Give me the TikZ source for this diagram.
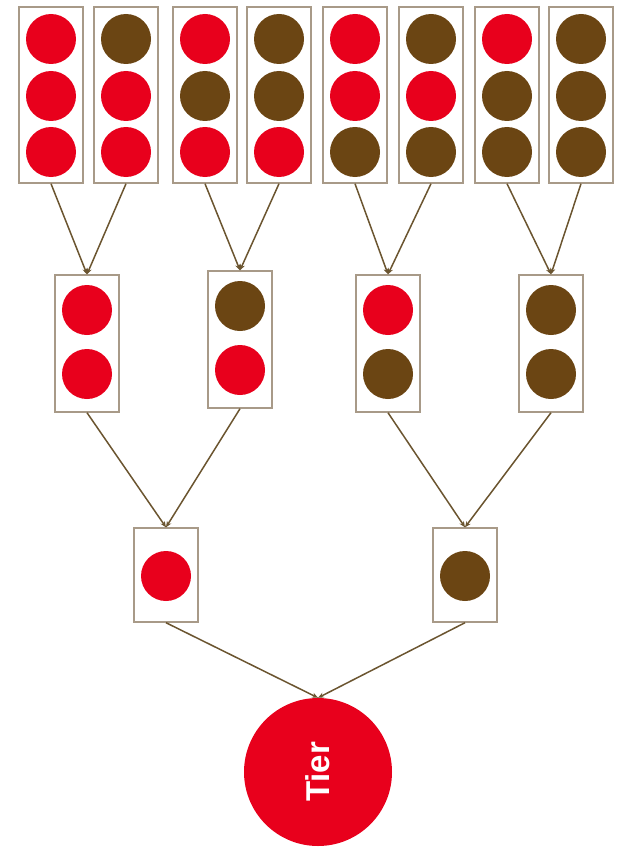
\documentclass[tikz,border=0pt]{standalone}
\usepackage{fontspec}
\setsansfont{Liberation Sans}
\usetikzlibrary{arrows.meta}
\definecolor{ballred}{HTML}{E8001C}
\definecolor{ballbrown}{HTML}{6B4513}
\definecolor{boxline}{HTML}{A89A88}
\definecolor{edgeline}{HTML}{6B5530}
\begin{document}
\begin{tikzpicture}[x=1pt, y=-1pt,
	  box/.style={rectangle, draw=boxline, line width=1.4pt, fill=white, minimum width=64pt, inner sep=0pt},
	  red/.style={circle, fill=ballred, minimum size=50pt, inner sep=0pt},
	  brown/.style={circle, fill=ballbrown, minimum size=50pt, inner sep=0pt},
	  edge/.style={draw=edgeline, line width=1.5pt, -{Stealth[length=6pt, width=5pt]}}]
	  \useasboundingbox (0,0) rectangle (617,848);
	  \node[box, minimum height=176pt] (t1) at (51,95) {};
	  \node[box, minimum height=176pt] (t2) at (126,95) {};
	  \node[box, minimum height=176pt] (t3) at (205,95) {};
	  \node[box, minimum height=176pt] (t4) at (279,95) {};
	  \node[box, minimum height=176pt] (t5) at (355,95) {};
	  \node[box, minimum height=176pt] (t6) at (431,95) {};
	  \node[box, minimum height=176pt] (t7) at (507,95) {};
	  \node[box, minimum height=176pt] (t8) at (581,95) {};
	  \node[red] (t1a) at (51,39) {};   \node[red] (t1b) at (51,96) {};   \node[red] (t1c) at (51,152) {};
	  \node[brown] (t2a) at (126,39) {}; \node[red] (t2b) at (126,96) {};   \node[red] (t2c) at (126,152) {};
	  \node[red] (t3a) at (205,39) {};   \node[brown] (t3b) at (205,96) {}; \node[red] (t3c) at (205,152) {};
	  \node[brown] (t4a) at (279,39) {}; \node[brown] (t4b) at (279,96) {}; \node[red] (t4c) at (279,152) {};
	  \node[red] (t5a) at (355,39) {};   \node[red] (t5b) at (355,96) {};   \node[brown] (t5c) at (355,152) {};
	  \node[brown] (t6a) at (431,39) {}; \node[red] (t6b) at (431,96) {};   \node[brown] (t6c) at (431,152) {};
	  \node[red] (t7a) at (507,39) {};   \node[brown] (t7b) at (507,96) {}; \node[brown] (t7c) at (507,152) {};
	  \node[brown] (t8a) at (581,39) {}; \node[brown] (t8b) at (581,96) {}; \node[brown] (t8c) at (581,152) {};
	  
	  \node[box, minimum height=137pt] (m1) at (87,343.5) {};
	  \node[box, minimum height=137pt] (m2) at (240,339.5) {};
	  \node[box, minimum height=137pt] (m3) at (388,343.5) {};
	  \node[box, minimum height=137pt] (m4) at (551,343.5) {};
	  \node[red] (m1a) at (87,310) {};    \node[red] (m1b) at (87,374) {};
	  \node[brown] (m2a) at (240,306) {}; \node[red] (m2b) at (240,370) {};
	  \node[red] (m3a) at (388,310) {};   \node[brown] (m3b) at (388,374) {};
	  \node[brown] (m4a) at (551,310) {}; \node[brown] (m4b) at (551,374) {};
	  
	  \node[box, minimum height=94pt] (b1) at (166,575) {};
	  \node[box, minimum height=94pt] (b2) at (465,575) {};
	  \node[red] (b1a) at (166,576) {};
	  \node[brown] (b2a) at (465,576) {};
	  
	  \node[circle, fill=ballred, minimum size=148pt, inner sep=0pt, text=white, font=\sffamily\bfseries\fontsize{33}{33}\selectfont] (tier) at (318,772) {\rotatebox{90}{Tier}};
	  
	  \draw[edge] (t1.south) -- (m1.north);
	  \draw[edge] (t2.south) -- (m1.north);
	  \draw[edge] (t3.south) -- (m2.north);
	  \draw[edge] (t4.south) -- (m2.north);
	  \draw[edge] (t5.south) -- (m3.north);
	  \draw[edge] (t6.south) -- (m3.north);
	  \draw[edge] (t7.south) -- (m4.north);
	  \draw[edge] (t8.south) -- (m4.north);
	  \draw[edge] (m1.south) -- (b1.north);
	  \draw[edge] (m2.south) -- (b1.north);
	  \draw[edge] (m3.south) -- (b2.north);
	  \draw[edge] (m4.south) -- (b2.north);
	  \draw[edge] (b1.south) -- (tier.north);
	  \draw[edge] (b2.south) -- (tier.north);
	\end{tikzpicture}
\end{document}
